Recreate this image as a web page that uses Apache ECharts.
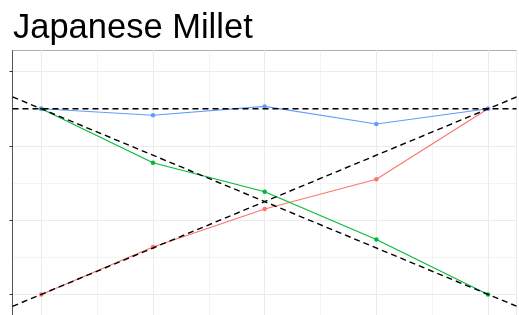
<!DOCTYPE html>
<html>
<head>
<meta charset="utf-8">
<script src="https://cdn.jsdelivr.net/npm/echarts@6/dist/echarts.min.js"></script>
<style>
html,body{margin:0;padding:0;background:#fff;}
#chart{width:519px;height:315px;}
</style>
</head>
<body>
<div id="chart"></div>
<script>
// ---- data ----
const chartTitle = 'Japanese Millet';
const xValues = [0, 1, 2, 3, 4];
const seriesNames = ['Red group', 'Green group', 'Blue group'];
const redValues = [0.0, 0.255, 0.460, 0.620, 1.0];
const greenValues = [1.0, 0.709, 0.553, 0.296, 0.0];
const blueValues = [1.0, 0.965, 1.013, 0.918, 1.0];
const yTickValues = [0, 0.4, 0.8, 1.2];
// reference lines: slope and intercept
const refSlopes = [0, 0.25, -0.25];
const refIntercepts = [1, 0, 1];

// ---- layout / style ----
const xMin = -0.258, xMax = 4.255;
const yMin = -0.2, yMax = 1.3143;
const colors = ['#F8766D', '#00BA38', '#619CFF'];
const gridColor = '#ebebeb';

function pairs(ys) { return xValues.map((x, i) => [x, ys[i]]); }

const dataSeries = [redValues, greenValues, blueValues].map((vals, i) => ({
  name: seriesNames[i],
  type: 'line',
  data: pairs(vals),
  symbol: 'circle',
  symbolSize: 4.5,
  showSymbol: true,
  lineStyle: { color: colors[i], width: 1.1 },
  itemStyle: { color: colors[i] },
  z: 3,
  silent: true
}));

const refSeries = refSlopes.map((s, i) => ({
  type: 'line',
  data: [[xMin, refIntercepts[i] + s * xMin], [xMax, refIntercepts[i] + s * xMax]],
  symbol: 'none',
  lineStyle: { color: '#000', width: 1.4, type: [6, 4] },
  z: 4,
  silent: true
}));

function makeX(step, width) {
  return {
    type: 'value', min: xMin, max: xMax, minInterval: step, maxInterval: step,
    axisLine: { show: false, onZero: false }, axisTick: { show: false }, axisLabel: { show: false },
    splitLine: { show: true, lineStyle: { color: gridColor, width: width } }
  };
}
function makeY(step, width, ticks) {
  return {
    type: 'value', min: yMin, max: yMax, minInterval: step, maxInterval: step,
    axisLine: { show: ticks, onZero: false, lineStyle: { color: '#555', width: 1 } },
    axisTick: ticks ? { show: true, length: 3, customValues: yTickValues, lineStyle: { color: '#333', width: 1 } } : { show: false },
    axisLabel: { show: false },
    splitLine: { show: true, lineStyle: { color: gridColor, width: width } }
  };
}

const chart = echarts.init(document.getElementById('chart'), null, { renderer: 'canvas' });
chart.setOption({
  animation: false,
  backgroundColor: '#fff',
  title: {
    text: chartTitle, left: 8, top: 6,
    textStyle: { fontFamily: 'Liberation Sans', fontSize: 34.5, fontWeight: 'normal', color: '#000' }
  },
  grid: {
    left: 12.5, top: 50.5, width: 504, height: 281,
    show: true, borderColor: '#555', borderWidth: 1, backgroundColor: '#fff',
    containLabel: false, outerBoundsMode: 'none'
  },
  xAxis: [makeX(1, 1), makeX(0.5, 0.6)],
  yAxis: [makeY(0.4, 1, true), makeY(0.2, 0.6, false)],
  series: dataSeries.concat(refSeries)
});
</script>
</body>
</html>
